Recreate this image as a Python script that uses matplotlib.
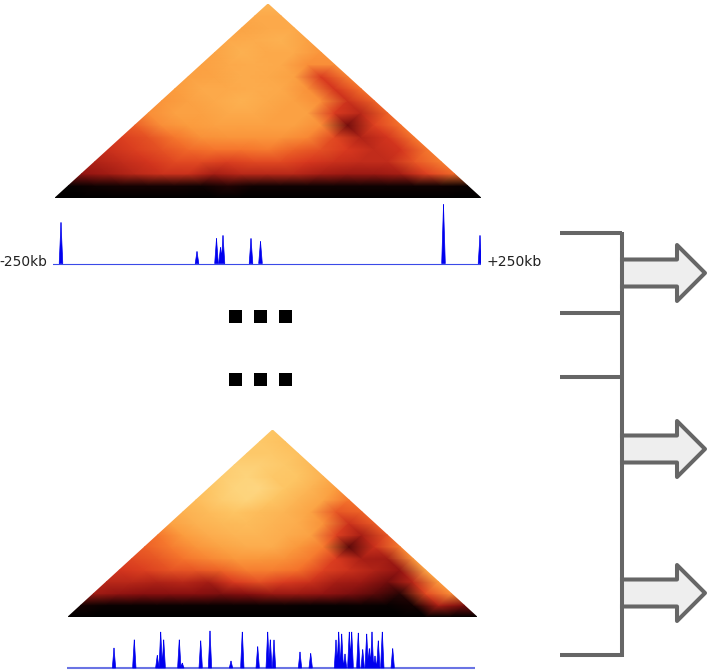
import numpy as np
import matplotlib
matplotlib.use("Agg")
import matplotlib.pyplot as plt
from matplotlib.colors import LinearSegmentedColormap
from matplotlib.tri import Triangulation

W, H = 712, 671

# Contact levels, row 0 = base of the triangle, row 16 = apex
tri1_rows = [
    [0]*17,
    [.02,.05,.06,.06,.06,.05,.1,.05,.05,.05,.05,.05,.05,.05,.05,.03],
    [.3,.33,.38,.42,.42,.34,.38,.38,.38,.34,.32,.32,.34,.48,.6],
    [.36,.4,.44,.5,.5,.47,.5,.5,.45,.42,.4,.4,.54,.66],
    [.42,.47,.53,.6,.63,.63,.65,.58,.52,.45,.4,.44,.64],
    [.47,.53,.64,.71,.72,.72,.72,.68,.5,.36,.44,.64],
    [.57,.7,.74,.75,.75,.75,.75,.7,.24,.48,.63],
    [.7,.75,.75,.77,.77,.75,.75,.46,.38,.58],
    [.72,.75,.77,.79,.77,.75,.7,.42,.58],
    [.74,.77,.77,.78,.77,.71,.44,.62],
    [.75,.76,.78,.77,.75,.46,.66],
    [.75,.77,.78,.77,.7,.7],
    [.76,.79,.77,.77,.72],
    [.77,.78,.79,.75],
    [.76,.77,.77],
    [.77,.77],
    [.8],
]
tri2_rows = [
    [0]*17,
    [.06,.03,.03,.03,.03,.03,.03,.03,.03,.02,.02,.03,.02,.06,.35,.25],
    [.33,.3,.28,.28,.28,.26,.28,.32,.32,.3,.26,.2,.12,.5,.7],
    [.38,.38,.36,.38,.34,.46,.52,.46,.42,.34,.32,.24,.38,.74],
    [.44,.47,.53,.54,.58,.66,.66,.62,.48,.42,.36,.3,.76],
    [.5,.55,.63,.68,.73,.73,.71,.65,.46,.34,.33,.72],
    [.57,.65,.72,.76,.78,.78,.73,.65,.2,.42,.66],
    [.63,.74,.78,.8,.8,.78,.75,.48,.34,.54],
    [.75,.79,.81,.82,.8,.78,.71,.42,.56],
    [.79,.82,.84,.82,.8,.76,.54,.58],
    [.82,.86,.88,.84,.8,.76,.63],
    [.84,.88,.89,.84,.8,.74],
    [.86,.88,.85,.84,.79],
    [.87,.87,.85,.81],
    [.85,.85,.83],
    [.85,.83],
    [.84],
]

# Signal peaks: position along the track and height
track1_pos = [61, 197, 216.5, 220.5, 223, 251, 260.5, 443.5, 480]
track1_val = [41, 12, 25, 16, 28, 25, 22, 59, 28]
track2_pos = [114, 134.3, 157.3, 160.7, 163.7, 179.3, 182.3, 200.7, 210, 231, 242.3, 257.7,
              267.7, 270.3, 274, 300, 310.7, 336, 338.7, 341.7, 345, 349.3, 351.7, 358.3,
              362.7, 366.7, 369.3, 372, 375, 378.3, 382.3, 392.7]
track2_val = [20, 29, 13, 37, 29, 29, 5, 28, 37, 7, 37, 22,
              37, 29, 28, 16, 15, 28, 37, 35, 14, 37, 37, 36,
              19, 35, 20, 36, 12, 28, 37, 20]
label_left = "-250kb"
label_right = "+250kb"
dot_x = [235.5, 260.5, 285.5]
dot_y = [316.5, 379.5]
branch_y = [233, 313, 377, 655]
arrow_y = [273, 449, 593]

cmap = LinearSegmentedColormap.from_list("fall", [
    (0.0, "#000000"), (0.12, "#2a0505"), (0.28, "#8a1010"), (0.45, "#d8381f"),
    (0.62, "#f4702a"), (0.74, "#fb9c3e"), (0.84, "#fdc462"), (0.93, "#fee59a"), (1.0, "#ffffff")])

fig = plt.figure(figsize=(W/100, H/100), dpi=100)
def px_axes(x0, y0, x1, y1):
    ax = fig.add_axes([x0/W, 1-y1/H, (x1-x0)/W, (y1-y0)/H])
    ax.axis("off")
    return ax

def draw_tri(rows, rect):
    ax = px_axes(*rect)
    n = len(rows) - 1
    xs, ys, vs, idx = [], [], [], {}
    for k, row in enumerate(rows):
        for m, v in enumerate(row):
            idx[(k, m)] = len(xs)
            xs.append(k/2 + m); ys.append(k); vs.append(v)
    tris = []
    for k in range(n):
        for m in range(len(rows[k]) - 1):
            tris.append([idx[(k, m)], idx[(k, m+1)], idx[(k+1, m)]])
            if m < len(rows[k]) - 2:
                tris.append([idx[(k, m+1)], idx[(k+1, m+1)], idx[(k+1, m)]])
    ax.tripcolor(Triangulation(xs, ys, tris), vs, shading="gouraud", cmap=cmap, vmin=0, vmax=1)
    ax.set_xlim(0, n); ax.set_ylim(0, n)

draw_tri(tri1_rows, (55, 4, 481, 198))
draw_tri(tri2_rows, (68, 430, 477, 617))

def draw_track(pos, val, rect, hw, lw_base, base_color):
    ax = px_axes(*rect)
    x = np.arange(rect[0], rect[2] + 0.1, 0.25)
    y = np.zeros_like(x)
    for p, v in zip(pos, val):
        y = np.maximum(y, v*np.clip(1 - np.abs(x - p)/hw, 0, 1))
    ax.axhline(0, color=base_color, lw=lw_base, zorder=1)
    ax.fill_between(x, 0, y, where=y > 0, color="#0000ee", lw=0.5, zorder=2)
    ax.set_xlim(rect[0], rect[2]); ax.set_ylim(-2, rect[3]-rect[1]-2)

draw_track(track1_pos, track1_val, (53, 203, 481, 265.5), 1.8, 0.8, "#3a4ae8")
draw_track(track2_pos, track2_val, (67, 628, 475, 670), 1.7, 1.5, "#6a74e4")

ov = px_axes(0, 0, W, H)
ov.set_xlim(0, W); ov.set_ylim(H, 0); ov.patch.set_alpha(0)
ov.text(47, 262, label_left, ha="right", va="center", fontsize=9.9, color="#222222", family="DejaVu Sans")
ov.text(486, 262, label_right, ha="left", va="center", fontsize=10.1, color="#222222", family="DejaVu Sans")

for yy in dot_y:
    for xx in dot_x:
        ov.add_patch(plt.Rectangle((xx-6.5, yy-6.5), 13, 13, color="black", lw=0))

grey = "#666666"
lw = 2.9
ov.plot([622, 622], [branch_y[0]-1.5, branch_y[-1]+1.5], color=grey, lw=lw, solid_capstyle="butt")
for yy in branch_y:
    ov.plot([560, 622], [yy, yy], color=grey, lw=lw, solid_capstyle="butt")
for c in arrow_y:
    px = [622, 677, 677, 705, 677, 677, 622]
    py = [c-13.5, c-13.5, c-28, c, c+28, c+13.5, c+13.5]
    ov.fill(px, py, color="#eeeeee", lw=0, zorder=1)
    ov.plot(px, py, color=grey, lw=lw, solid_joinstyle="round", zorder=2)

fig.savefig("out.png", dpi=100, facecolor="white")
